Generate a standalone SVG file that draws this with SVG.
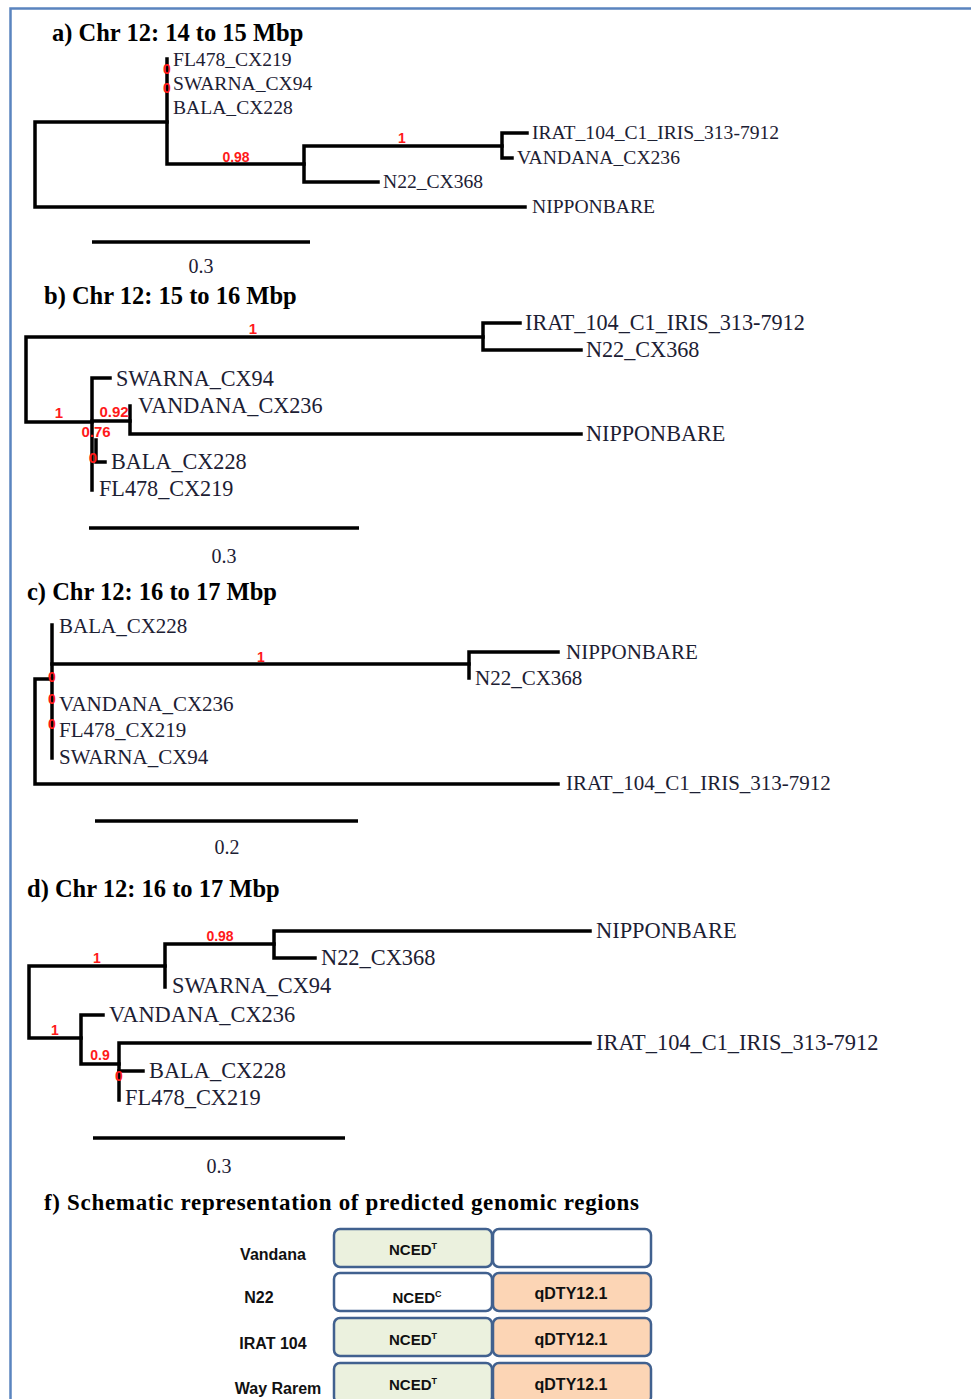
<svg xmlns="http://www.w3.org/2000/svg" width="971" height="1399" viewBox="0 0 971 1399">
  <style>
    .frame { fill: none; stroke: #5a84bf; stroke-width: 2.5; }
    .title { font-family: "Liberation Serif", serif; font-weight: bold; font-size: 24.5px; fill: #000; }
    .leaf { font-family: "Liberation Serif", serif; fill: #1c2033; }
    .la { font-size: 19.6px; }
    .lb { font-size: 22.2px; }
    .lc { font-size: 21px; }
    .ld { font-size: 22.4px; }
    .sup { font-family: "Liberation Sans", Arial, sans-serif; font-weight: bold; font-size: 14px; fill: #ff1a1a; text-anchor: middle; }
    .br { fill: none; stroke: #000; stroke-width: 3.5; stroke-linecap: square; stroke-linejoin: miter; }
    .scale { stroke: #000; stroke-width: 3.5; }
    .scaletxt { font-family: "Liberation Serif", serif; font-size: 20px; fill: #1c2033; text-anchor: middle; }
    .row { font-family: "Liberation Sans", Arial, sans-serif; font-weight: bold; font-size: 16px; fill: #111; text-anchor: middle; }
    .box { stroke: #41618f; stroke-width: 2.5; }
    .green { fill: #ebf1de; }
    .peach { fill: #fcd5b5; }
    .white { fill: #fff; }
    .boxtxt { font-family: "Liberation Sans", Arial, sans-serif; font-weight: bold; font-size: 15px; fill: #111; text-anchor: middle; }
  </style>

  <rect x="0" y="0" width="971" height="1399" fill="#fff"/>
  <rect class="frame" x="10.5" y="8.5" width="1000" height="1500"/>

  <!-- ===== a) Chr 12: 14 to 15 Mbp ===== -->
  <text class="title" x="52" y="41">a) Chr 12: 14 to 15 Mbp</text>
  <g id="tree-a-branches">
    <path class="br" d="M167,122 H35 V207 H525"/>
    <path class="br" d="M167,59 V164 H304"/>
    <path class="br" d="M378,182 H304 V146 H502"/>
    <path class="br" d="M527,133 H502 V158 H512"/>
  </g>
  <g id="tree-a-support">
    <text class="sup" x="167" y="74">0</text>
    <text class="sup" x="167" y="93">0</text>
    <text class="sup" x="236" y="162">0.98</text>
    <text class="sup" x="402" y="143">1</text>
  </g>
  <g id="a-FL478"><text class="leaf la" x="173" y="66">FL478_CX219</text></g>
  <g id="a-SWARNA"><text class="leaf la" x="173" y="90">SWARNA_CX94</text></g>
  <g id="a-BALA"><text class="leaf la" x="173" y="114">BALA_CX228</text></g>
  <g id="a-IRAT"><text class="leaf la" x="532" y="139">IRAT_104_C1_IRIS_313-7912</text></g>
  <g id="a-VANDANA"><text class="leaf la" x="517" y="164">VANDANA_CX236</text></g>
  <g id="a-N22"><text class="leaf la" x="383" y="188">N22_CX368</text></g>
  <g id="a-NIPPONBARE"><text class="leaf la" x="532" y="213">NIPPONBARE</text></g>
  <g id="a-scale">
    <line class="scale" x1="92" y1="242" x2="310" y2="242"/>
    <text class="scaletxt" x="201" y="273">0.3</text>
  </g>

  <!-- ===== b) Chr 12: 15 to 16 Mbp ===== -->
  <text class="title" x="44" y="304">b) Chr 12: 15 to 16 Mbp</text>
  <g id="tree-b-branches">
    <path class="br" d="M483,337 H26 V422 H92"/>
    <path class="br" d="M520,323 H483 V350 H581"/>
    <path class="br" d="M110,378 H92 V490"/>
    <path class="br" d="M92,421 H130"/>
    <path class="br" d="M130,406 V434 H581"/>
    <path class="br" d="M96,440 V462 H105"/>
  </g>
  <g id="tree-b-support">
    <text class="sup" x="253" y="334" style="font-size:15px">1</text>
    <text class="sup" x="59" y="418" style="font-size:15px">1</text>
    <text class="sup" x="114" y="417" style="font-size:15px">0.92</text>
    <text class="sup" x="96" y="437" style="font-size:15px">0.76</text>
    <text class="sup" x="93" y="463" style="font-size:15px">0</text>
  </g>
  <g id="b-IRAT"><text class="leaf lb" x="525" y="330">IRAT_104_C1_IRIS_313-7912</text></g>
  <g id="b-N22"><text class="leaf lb" x="586" y="357">N22_CX368</text></g>
  <g id="b-SWARNA"><text class="leaf lb" x="116" y="386">SWARNA_CX94</text></g>
  <g id="b-VANDANA"><text class="leaf lb" x="138" y="413">VANDANA_CX236</text></g>
  <g id="b-NIPPONBARE"><text class="leaf lb" x="586" y="441">NIPPONBARE</text></g>
  <g id="b-BALA"><text class="leaf lb" x="111" y="469">BALA_CX228</text></g>
  <g id="b-FL478"><text class="leaf lb" x="99" y="496">FL478_CX219</text></g>
  <g id="b-scale">
    <line class="scale" x1="89" y1="528" x2="359" y2="528"/>
    <text class="scaletxt" x="224" y="563">0.3</text>
  </g>

  <!-- ===== c) Chr 12: 16 to 17 Mbp ===== -->
  <text class="title" x="27" y="600">c) Chr 12: 16 to 17 Mbp</text>
  <g id="tree-c-branches">
    <path class="br" d="M52,679 H35 V784 H558"/>
    <path class="br" d="M52,625 V758"/>
    <path class="br" d="M52,664 H469"/>
    <path class="br" d="M558,652 H469 V678"/>
  </g>
  <g id="tree-c-support">
    <text class="sup" x="52" y="682">0</text>
    <text class="sup" x="52" y="704">0</text>
    <text class="sup" x="52" y="729">0</text>
    <text class="sup" x="261" y="662">1</text>
  </g>
  <g id="c-BALA"><text class="leaf lc" x="59" y="633">BALA_CX228</text></g>
  <g id="c-NIPPONBARE"><text class="leaf lc" x="566" y="659">NIPPONBARE</text></g>
  <g id="c-N22"><text class="leaf lc" x="475" y="685">N22_CX368</text></g>
  <g id="c-VANDANA"><text class="leaf lc" x="59" y="711">VANDANA_CX236</text></g>
  <g id="c-FL478"><text class="leaf lc" x="59" y="737">FL478_CX219</text></g>
  <g id="c-SWARNA"><text class="leaf lc" x="59" y="764">SWARNA_CX94</text></g>
  <g id="c-IRAT"><text class="leaf lc" x="566" y="790">IRAT_104_C1_IRIS_313-7912</text></g>
  <g id="c-scale">
    <line class="scale" x1="95" y1="821" x2="358" y2="821"/>
    <text class="scaletxt" x="227" y="854">0.2</text>
  </g>

  <!-- ===== d) Chr 12: 16 to 17 Mbp ===== -->
  <text class="title" x="27" y="897">d) Chr 12: 16 to 17 Mbp</text>
  <g id="tree-d-branches">
    <path class="br" d="M165,966 H29 V1038 H81"/>
    <path class="br" d="M274,944 H165 V987"/>
    <path class="br" d="M590,931 H274 V958 H315"/>
    <path class="br" d="M103,1015 H81 V1064 H119"/>
    <path class="br" d="M590,1043 H119 V1100"/>
    <path class="br" d="M119,1071 H143"/>
  </g>
  <g id="tree-d-support">
    <text class="sup" x="220" y="941">0.98</text>
    <text class="sup" x="97" y="963">1</text>
    <text class="sup" x="55" y="1035">1</text>
    <text class="sup" x="100" y="1060">0.9</text>
    <text class="sup" x="119" y="1081">0</text>
  </g>
  <g id="d-NIPPONBARE"><text class="leaf ld" x="596" y="938">NIPPONBARE</text></g>
  <g id="d-N22"><text class="leaf ld" x="321" y="965">N22_CX368</text></g>
  <g id="d-SWARNA"><text class="leaf ld" x="172" y="993">SWARNA_CX94</text></g>
  <g id="d-VANDANA"><text class="leaf ld" x="109" y="1022">VANDANA_CX236</text></g>
  <g id="d-IRAT"><text class="leaf ld" x="596" y="1050">IRAT_104_C1_IRIS_313-7912</text></g>
  <g id="d-BALA"><text class="leaf ld" x="149" y="1078">BALA_CX228</text></g>
  <g id="d-FL478"><text class="leaf ld" x="125" y="1105">FL478_CX219</text></g>
  <g id="d-scale">
    <line class="scale" x1="93" y1="1138" x2="345" y2="1138"/>
    <text class="scaletxt" x="219" y="1173">0.3</text>
  </g>

  <!-- ===== f) Schematic of genomic regions ===== -->
  <text class="title" x="44" y="1210" style="font-size:23px" textLength="595" lengthAdjust="spacing">f) Schematic representation of predicted genomic regions</text>

  <g id="row-vandana">
    <text class="row" x="273" y="1260">Vandana</text>
    <rect class="box green" x="334" y="1229" width="158" height="38" rx="6"/>
    <rect class="box white" x="493" y="1229" width="158" height="38" rx="6"/>
    <text class="boxtxt" x="413" y="1255">NCED<tspan dy="-6" font-size="9">T</tspan></text>
  </g>
  <g id="row-n22">
    <text class="row" x="259" y="1303">N22</text>
    <rect class="box white" x="334" y="1273" width="158" height="38" rx="6"/>
    <rect class="box peach" x="493" y="1273" width="158" height="38" rx="6"/>
    <text class="boxtxt" x="417" y="1303">NCED<tspan dy="-6" font-size="9">C</tspan></text>
    <text class="boxtxt" x="571" y="1299" style="font-size:16px">qDTY12.1</text>
  </g>
  <g id="row-irat104">
    <text class="row" x="273" y="1349">IRAT 104</text>
    <rect class="box green" x="334" y="1318" width="158" height="38" rx="6"/>
    <rect class="box peach" x="493" y="1318" width="158" height="38" rx="6"/>
    <text class="boxtxt" x="413" y="1345">NCED<tspan dy="-6" font-size="9">T</tspan></text>
    <text class="boxtxt" x="571" y="1345" style="font-size:16px">qDTY12.1</text>
  </g>
  <g id="row-wayrarem">
    <text class="row" x="278" y="1394">Way Rarem</text>
    <rect class="box green" x="334" y="1363" width="158" height="40" rx="6"/>
    <rect class="box peach" x="493" y="1363" width="158" height="40" rx="6"/>
    <text class="boxtxt" x="413" y="1390">NCED<tspan dy="-6" font-size="9">T</tspan></text>
    <text class="boxtxt" x="571" y="1390" style="font-size:16px">qDTY12.1</text>
  </g>
</svg>
